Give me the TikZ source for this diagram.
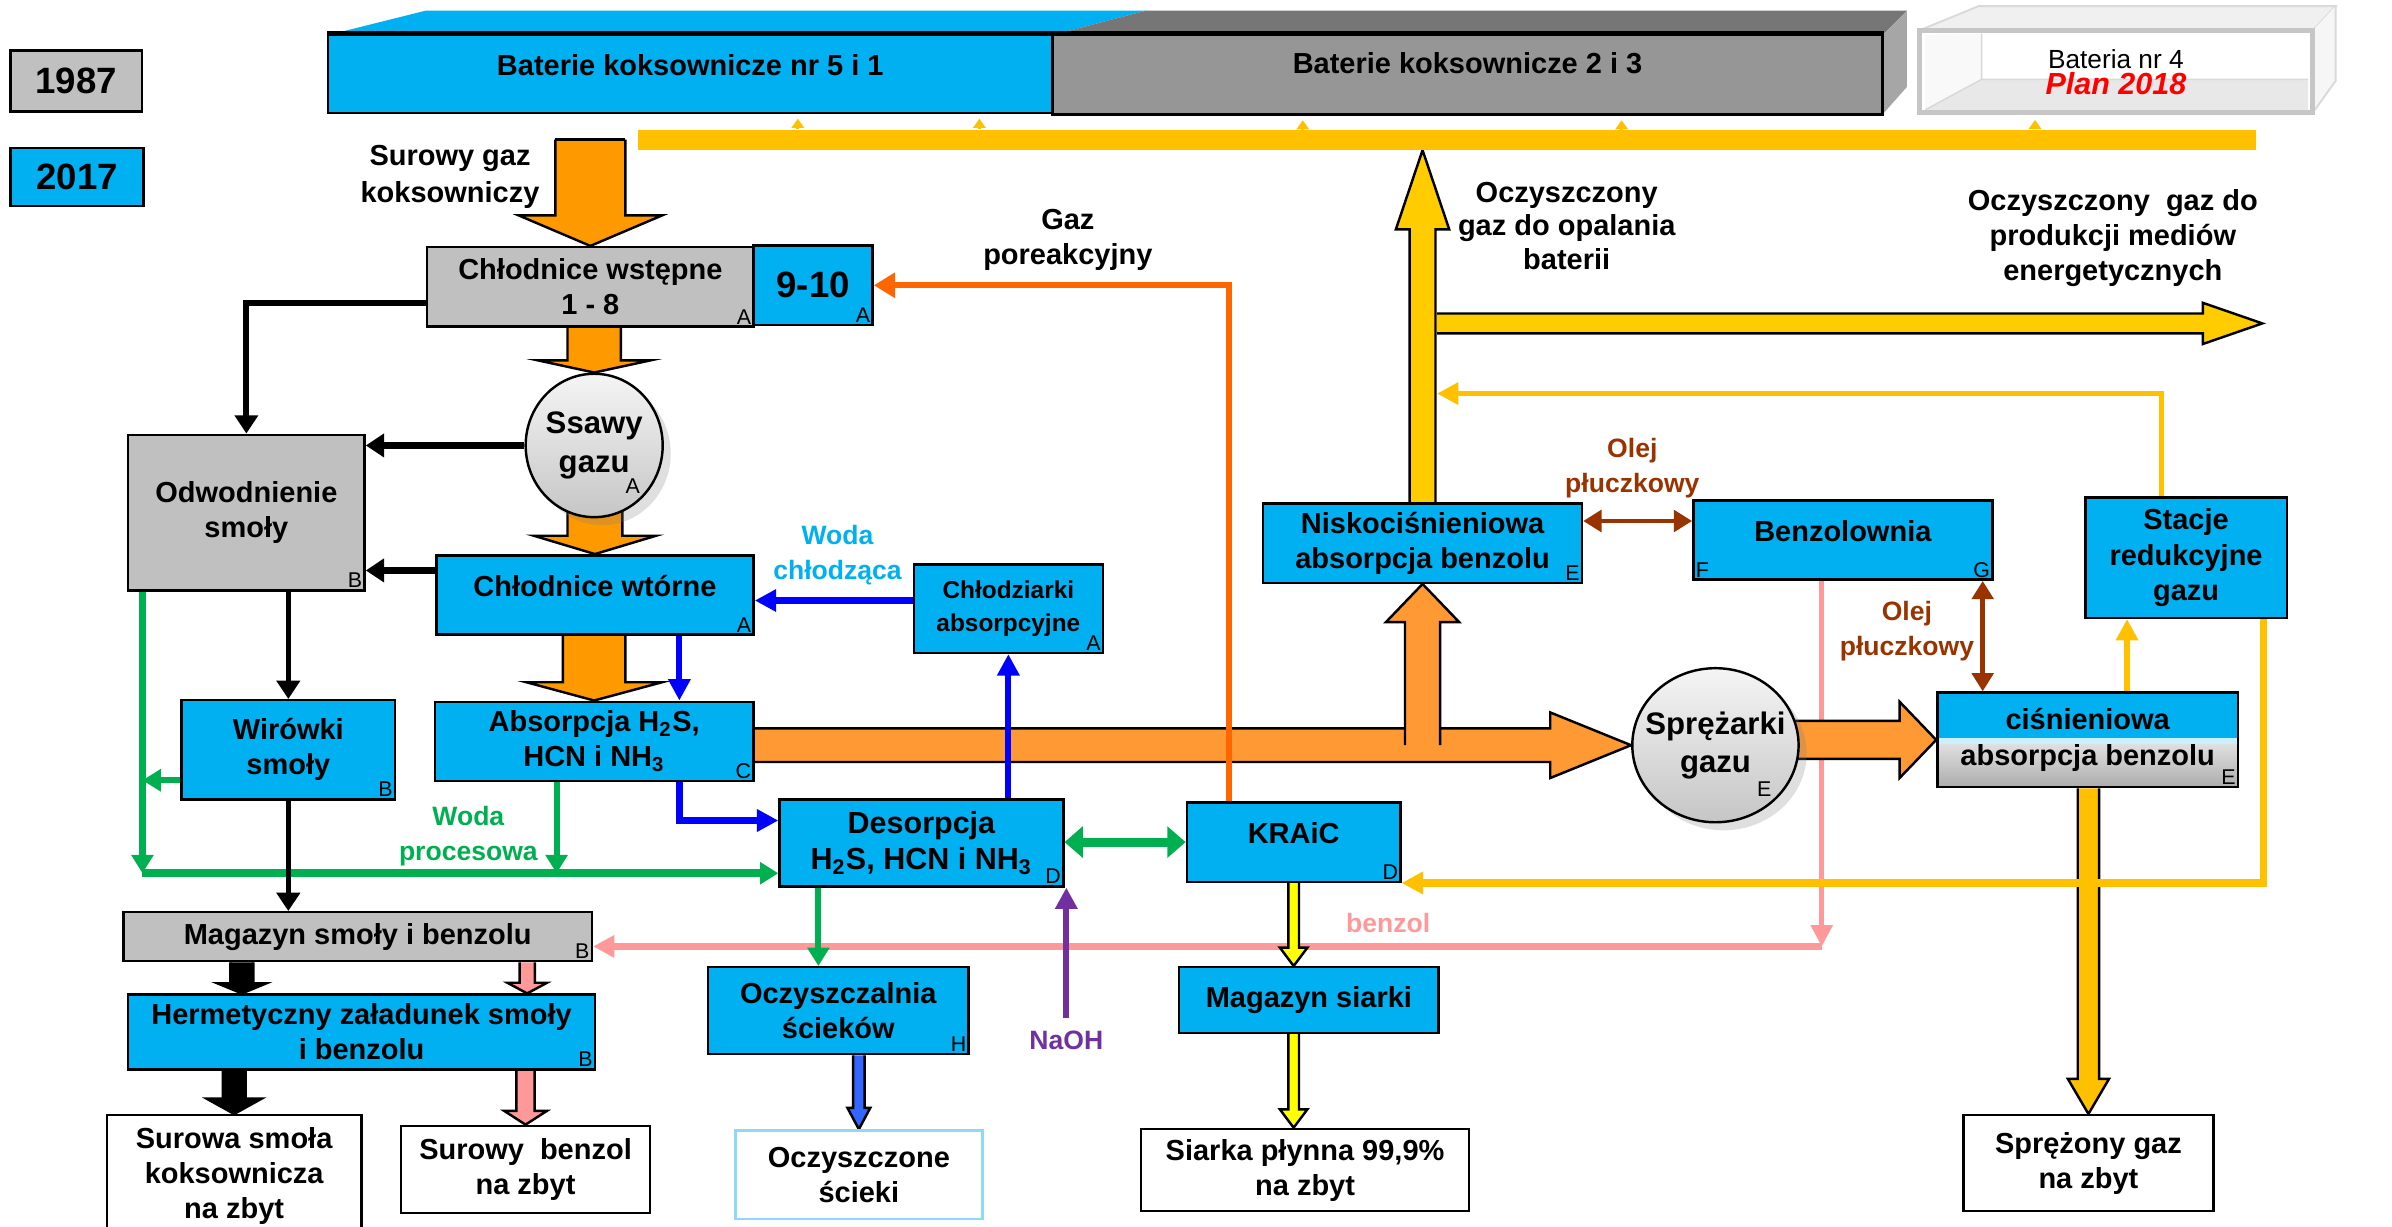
\documentclass[tikz,border=0pt]{standalone}
\usepackage{fontspec}
\setmainfont{Liberation Sans}
\usetikzlibrary{arrows.meta,calc,shapes.geometric,shadows,backgrounds}

\definecolor{boxblue}{HTML}{00B0F0}
\definecolor{boxgrey}{HTML}{C0C0C0}
\definecolor{batgrey}{HTML}{969696}
\definecolor{battop}{HTML}{767676}
\definecolor{batside}{HTML}{A6A6A6}
\definecolor{orangeA}{HTML}{FF9900}
\definecolor{orangeB}{HTML}{FF9933}
\definecolor{gasred}{HTML}{FF6600}
\definecolor{yellowA}{HTML}{FFC000}
\definecolor{yellowB}{HTML}{FFCC00}
\definecolor{sulfur}{HTML}{FFFF00}
\definecolor{watergreen}{HTML}{00B050}
\definecolor{coolblue}{HTML}{0000FF}
\definecolor{wasteblue}{HTML}{3366FF}
\definecolor{benzpink}{HTML}{FF9999}
\definecolor{oilbrown}{HTML}{993300}
\definecolor{naohpurple}{HTML}{7030A0}
\definecolor{lightedge}{HTML}{8FD8F8}

\newcommand\boxfont{\fontsize{9.5}{11.5}\selectfont\bfseries}
\newcommand\tagfont{\fontsize{7}{7}\selectfont}

% block arrows: start, tip, shaft half width, head half width, head length, colour
\newcommand\vblock[6]{%
  \fill[#6] let \p1=#1, \p2=#2, \p3=($(\x2,\y2)!#5!(\x2,\y1)$) in
    (\x2-#3,\y1) -- (\x2-#3,\y3) -- (\x2-#4,\y3) -- (\x2,\y2) -- (\x2+#4,\y3)
    -- (\x2+#3,\y3) -- (\x2+#3,\y1) -- cycle;
  \draw[blockedge] let \p1=#1, \p2=#2, \p3=($(\x2,\y2)!#5!(\x2,\y1)$) in
    (\x2-#3,\y1) -- (\x2-#3,\y3) -- (\x2-#4,\y3) -- (\x2,\y2) -- (\x2+#4,\y3)
    -- (\x2+#3,\y3) -- (\x2+#3,\y1);}
\newcommand\hblock[6]{%
  \fill[#6] let \p1=#1, \p2=#2, \p3=($(\x2,\y2)!#5!(\x1,\y2)$) in
    (\x1,\y2-#3) -- (\x3,\y2-#3) -- (\x3,\y2-#4) -- (\x2,\y2) -- (\x3,\y2+#4)
    -- (\x3,\y2+#3) -- (\x1,\y2+#3) -- cycle;
  \draw[blockedge] let \p1=#1, \p2=#2, \p3=($(\x2,\y2)!#5!(\x1,\y2)$) in
    (\x1,\y2-#3) -- (\x3,\y2-#3) -- (\x3,\y2-#4) -- (\x2,\y2) -- (\x3,\y2+#4)
    -- (\x3,\y2+#3) -- (\x1,\y2+#3);}

\tikzset{
  proc/.style={draw=black, line width=0.8pt, fill=boxblue, align=center, font=\boxfont, inner sep=1pt},
  oldproc/.style={proc, fill=boxgrey},
  sale/.style={proc, fill=white},
  drum/.style={ellipse, draw=black, line width=0.8pt, top color=gray!8, bottom color=gray!45,
    align=center, inner sep=0pt, font=\fontsize{10.2}{12.5}\selectfont\bfseries, drop shadow={opacity=0.25}},
  wh/.style 2 args={minimum width=#1*0.5pt, minimum height=#2*0.5pt},
  tagse/.style={label={[font=\tagfont, inner sep=1pt, anchor=south east]south east:#1}},
  tagsw/.style={label={[font=\tagfont, inner sep=1pt, anchor=south west]south west:#1}},
  note/.style={align=center, font=\boxfont, inner sep=0pt},
  smallnote/.style={note, font=\fontsize{8.7}{11.5}\selectfont\bfseries},
  blockedge/.style={draw=black, line width=0.8pt, line join=miter},
  blackflow/.style={draw=black, line width=2pt, -{Triangle[length=6pt,width=7.5pt]}},
  coolflow/.style={draw=coolblue, line width=2pt, -{Triangle[length=7pt,width=7pt]}},
  waterflow/.style={draw=watergreen, line width=2pt, -{Triangle[length=6pt,width=7pt]}},
  gasflow/.style={draw=gasred, line width=2pt, -{Triangle[length=7pt,width=8pt]}},
  fuelflow/.style={draw=yellowA, line width=1.8pt, -{Triangle[length=7pt,width=7pt]}},
  oilflow/.style={draw=oilbrown, line width=1.5pt, {Triangle[length=6pt,width=7pt]}-{Triangle[length=6pt,width=7pt]}},
  benzflow/.style={draw=benzpink, -{Triangle[length=7pt,width=7pt]}},
  feed/.style={draw=yellowA, line width=1pt, -{Triangle[length=3pt,width=4pt]}, shorten >=1.5pt}
}

\begin{document}
\begin{tikzpicture}[x=0.5pt, y=-0.5pt]
\useasboundingbox (0,0) rectangle (1568,804);

% batteries
\fill[boxblue] (215,23) -- (279,7) -- (751,7) -- (690,23) -- cycle;
\fill[battop] (690,23) -- (751,7) -- (1250,7) -- (1234,23) -- cycle;
\fill[batside] (1234,23) -- (1250,7) -- (1250,57) -- (1234,75) -- cycle;
\node[proc, wh={475}{51}, text depth=6pt] (bat51) at (452.5,48.5) {Baterie koksownicze nr 5 i 1};
\node[proc, fill=batgrey, wh={544}{52}, text depth=8pt] (bat23) at (962,49) {Baterie koksownicze 2 i 3};
\draw[line width=1.6pt] (bat51.north west) -- (bat23.north east);

\fill[gray!12] (1258,20) -- (1297,4) -- (1531,4) -- (1516,20) -- cycle;
\draw[gray!30, line width=0.6pt] (1258,20) -- (1297,4) -- (1531,4) -- (1516,20);
\fill[gray!7] (1516,20) -- (1531,4) -- (1531,53) -- (1516,74) -- cycle;
\draw[gray!30, line width=0.6pt] (1531,4) -- (1531,53) -- (1516,74);
\fill[gray!5] (1262,23) -- (1299,22) -- (1299,52) -- (1262,72) -- cycle;
\fill[gray!18] (1262,72) -- (1299,52) -- (1513,52) -- (1513,72) -- cycle;
\draw[gray!30, line width=0.5pt] (1299,22) -- (1299,52) -- (1262,72) (1299,52) -- (1513,52);
\node[draw=gray!45, line width=1.6pt, wh={258}{54}, align=center, inner sep=0pt,
  font=\fontsize{8.6}{8.5}\selectfont] (bat4) at (1387,47)
  {Bateria nr 4\\{\fontsize{10}{8.5}\selectfont\bfseries\itshape\color{red}Plan 2018}};

\node[fill=yellowA, inner sep=0pt, wh={1061}{13}] (gasband) at (948.5,91.5) {};
\foreach \bx/\bt in {523/bat51,642/bat51,854/bat23,1063/bat23,1334/bat4}
  \draw[feed] (\bx,0 |- gasband.north) -- (\bx,0 |- \bt.south);

% legend
\node[oldproc, wh={86}{40}, font=\fontsize{12}{14}\selectfont\bfseries] (y1987) at (50,53) {1987};
\node[proc, wh={87}{38}, font=\fontsize{12}{14}\selectfont\bfseries] (y2017) at (50.5,116) {2017};

% units
\node[oldproc, wh={214}{52}, tagse=A] (cws) at (387,188) {Chłodnice wstępne\\1 - 8};
\node[proc, wh={78}{52}, tagse=A, font=\fontsize{12}{14}\selectfont\bfseries] (c910) at (533,187) {9-10};
\node[drum, wh={89}{94}, tagse=A] (ssawy) at (389.5,292) {Ssawy\\gazu};
\node[oldproc, wh={155}{102}, tagse=B] (odw) at (161.5,336) {Odwodnienie\\smoły};
\node[proc, wh={208}{52}, tagse=A, text depth=6pt] (cwt) at (390,390) {Chłodnice wtórne};
\node[proc, wh={124}{58}, tagse=A, font=\fontsize{8}{10.5}\selectfont\bfseries] (chl) at (661,399) {Chłodziarki\\absorpcyjne};
\node[proc, wh={209}{52}, tagse=C] (absc) at (389.5,486) {Absorpcja H\textsubscript{2}S,\\HCN i NH\textsubscript{3}};
\node[proc, wh={186}{57}, tagse=D, font=\fontsize{10}{12}\selectfont\bfseries] (deso) at (604,552.5) {Desorpcja\\H\textsubscript{2}S, HCN i NH\textsubscript{3}};
\node[proc, wh={140}{52}, tagse=D, text depth=6pt] (kraic) at (848,552) {KRAiC};
\node[proc, wh={170}{43}] (msiar) at (858,655.5) {Magazyn siarki};
\node[sale, wh={215}{54}] (siarka) at (855.5,767) {Siarka płynna 99,9\%\\na zbyt};
\node[proc, wh={209}{52}, tagse=E] (nisko) at (932.5,356) {Niskociśnieniowa\\absorpcja benzolu};
\node[proc, wh={196}{52}, tagsw=F, tagse=G, text depth=6pt] (benz) at (1208,354) {Benzolownia};
\node[proc, wh={132}{79}] (stacje) at (1433,365.5) {Stacje\\redukcyjne\\gazu};
\node[drum, wh={109}{101}, inner xsep=-4pt, tagse=E] (spr) at (1124.5,488.5) {Sprężarki\\gazu};
\node[proc, wh={197}{62}, tagse=E, path picture={
    \fill[boxblue] (path picture bounding box.north west) rectangle ($(path picture bounding box.south east)!0.52!(path picture bounding box.north east)$);
    \fill[cyan!20!white] ($(path picture bounding box.south west)!0.52!(path picture bounding box.north west)$) rectangle ($(path picture bounding box.south east)!0.45!(path picture bounding box.north east)$);
    \fill[top color=gray!25, bottom color=gray!65] ($(path picture bounding box.south west)!0.45!(path picture bounding box.north west)$) rectangle (path picture bounding box.south east);}]
  (cisn) at (1368.5,485) {ciśnieniowa\\absorpcja benzolu};
\node[sale, wh={164}{63}] (sprezony) at (1369,762.5) {Sprężony gaz\\na zbyt};
\node[proc, wh={140}{65}, tagse=B] (wir) at (189,491.5) {Wirówki\\smoły};
\node[oldproc, wh={307}{32}, tagse=B] (magsm) at (234.5,614) {Magazyn smoły i benzolu};
\node[proc, wh={306}{49}, tagse=B] (herm) at (237,676.5) {Hermetyczny załadunek smoły\\i benzolu};
\node[sale, wh={167}{80}] (surowa) at (153.5,771) {Surowa smoła\\koksownicza\\na zbyt};
\node[sale, wh={163}{57}] (surben) at (344.5,766.5) {Surowy\ \ benzol\\na zbyt};
\node[proc, wh={171}{57}, tagse=H] (oczy) at (549.5,662.5) {Oczyszczalnia\\ścieków};
\node[sale, draw=lightedge, wh={162}{58}] (oczsc) at (563,770) {Oczyszczone\\ścieki};

% free labels
\node[note, font=\fontsize{9.5}{12}\selectfont\bfseries] (rawgas) at (295,116) {Surowy gaz\\koksowniczy};
\node[note] (tailgas) at (700,157) {Gaz\\poreakcyjny};
\node[note, font=\fontsize{9.5}{11}\selectfont\bfseries] (fuelgas) at (1027,148) {Oczyszczony\\gaz do opalania\\baterii};
\node[note, font=\fontsize{9.5}{11.5}\selectfont\bfseries] (mediagas) at (1385,156) {Oczyszczony\ \ gaz do\\produkcji mediów\\energetycznych};
\node[smallnote, text=boxblue] (coolw) at (549,364) {Woda\\chłodząca};
\node[smallnote, text=watergreen] (procw) at (307,548) {Woda\\procesowa};
\node[smallnote, text=oilbrown] (oil1) at (1070,307) {Olej\\płuczkowy};
\node[smallnote, text=oilbrown] (oil2) at (1250,414) {Olej\\płuczkowy};
\node[smallnote, text=benzpink] (benzlab) at (910,605) {benzol};
\node[smallnote, text=naohpurple] (naoh) at (699,682) {NaOH};

\coordinate (medstart) at (942,212);
\coordinate (medout) at (1483,212);

\begin{pgfonlayer}{background}
\fill[white] (0,0) rectangle (1568,804);
% benzol return
\coordinate (pA) at ($(benz.south west)!0.43!(benz.south east)$);
\coordinate (pB) at ($(magsm.north east)!0.69!(magsm.south east)$);
\draw[benzflow, line width=1.5pt] (pA) -- (pA |- pB);
\draw[benzflow, line width=2.4pt] (pA |- pB) -- (pB);
% gas
\vblock{(cws.north |- gasband.center)}{(cws.north)}{11.5pt}{23.5pt}{10pt}{orangeA}
\draw[blockedge] ($(cws.north |- gasband.center)+(-23,0)$) -- ++(46,0);
\vblock{(cws.south)}{(ssawy.north)}{8.75pt}{18.5pt}{4pt}{orangeA}
\vblock{(ssawy.center)}{(cwt.north)}{9pt}{20pt}{6pt}{orangeA}
\vblock{(cwt.south)}{(absc.north)}{10.25pt}{22.25pt}{6pt}{orangeA}
\hblock{(absc.east)}{(spr.west)}{5.5pt}{10.75pt}{26.5pt}{orangeB}
\vblock{(nisko.south |- spr.west)}{(nisko.south)}{5.75pt}{12pt}{12.5pt}{orangeB}
\hblock{(spr.center)}{(cisn.west)}{6.25pt}{12.5pt}{12pt}{orangeB}
\vblock{(nisko.north)}{(nisko.north |- gasband.south)}{4.25pt}{8.75pt}{26pt}{yellowB}
\hblock{(medstart)}{(medout)}{3.25pt}{6.75pt}{19.5pt}{yellowB}
\vblock{(cisn.south)}{(sprezony.north)}{3.5pt}{6.75pt}{11.5pt}{yellowA}
% products
\vblock{(magsm.south)}{($(herm.north west)!0.245!(herm.north east)$)}{3.75pt}{8pt}{3.3pt}{black}
\vblock{(magsm.south)}{($(herm.north west)!0.853!(herm.north east)$)}{2.5pt}{6.5pt}{3.5pt}{benzpink}
\vblock{(herm.south)}{(surowa.north)}{3.75pt}{9pt}{5pt}{black}
\vblock{(herm.south)}{(surben.north)}{3pt}{7pt}{4.5pt}{benzpink}
\vblock{(kraic.south)}{(msiar.north -| kraic.south)}{1.75pt}{4.5pt}{6pt}{sulfur}
\vblock{(msiar.south)}{(siarka.north -| kraic.south)}{1.75pt}{4.5pt}{6pt}{sulfur}
\vblock{(oczy.south)}{(oczsc.north)}{1.9pt}{3.75pt}{7pt}{wasteblue}
\end{pgfonlayer}

% process water
\coordinate (gA) at ($(odw.south west)!0.065!(odw.south east)$);
\coordinate (gB) at ($(deso.north west)!0.84!(deso.south west)$);
\coordinate (gW) at ($(wir.south west)!0.2!(wir.north west)$);
\coordinate (gC) at ($(absc.south west)!0.383!(absc.south east)$);
\coordinate (gD) at ($(deso.south west)!0.14!(deso.south east)$);
\draw[waterflow] (gA) -- (gA |- gB);
\draw[waterflow, line width=2.5pt] (gA |- gB) -- (gB);
\draw[waterflow] (gW) -- (gW -| gA);
\draw[waterflow] (gC) -- (gC |- gB);
\draw[waterflow] (gD) -- (gD |- oczy.north);
\draw[waterflow, line width=3pt, {Triangle[length=6pt,width=10pt]}-{Triangle[length=6pt,width=10pt]}] (kraic.west -| deso.east) -- (kraic.west);

% tar
\coordinate (kA) at ($(cws.south west)!0.3!(cws.north west)$);
\coordinate (kB) at ($(cwt.north west)!0.2!(cwt.south west)$);
\draw[blackflow] (kA) -| (odw.north);
\draw[blackflow, line width=2.5pt] (ssawy.west) -- (ssawy.west -| odw.east);
\draw[blackflow, line width=2.5pt] (kB) -- (kB -| odw.east);
\draw[blackflow, line width=1.6pt] (odw.south -| wir.north) -- (wir.north);
\draw[blackflow, line width=1.6pt] (wir.south) -- (wir.south |- magsm.north);

% cooling water
\coordinate (bA) at ($(chl.north west)!0.41!(chl.south west)$);
\coordinate (bC) at ($(cwt.south west)!0.764!(cwt.south east)$);
\coordinate (bD) at ($(deso.north west)!0.25!(deso.south west)$);
\draw[coolflow, line width=2.4pt] (bA) -- (bA -| cwt.east);
\draw[coolflow] (bC) -- (bC |- absc.north);
\draw[coolflow, line width=2.4pt] (bC |- absc.south) |- (bD);
\draw[coolflow] (deso.north -| chl.south) -- (chl.south);

% tail gas, NaOH
\coordinate (rA) at ($(kraic.north west)!0.2!(kraic.north east)$);
\draw[gasflow] (rA) |- (c910.east);
\draw[draw=naohpurple, line width=2pt, -{Triangle[length=7pt,width=7pt]}, shorten <=4pt] (naoh.north) -- (naoh.north |- deso.south);

% wash oil
\coordinate (oA) at ($(nisko.north east)!0.23!(nisko.south east)$);
\coordinate (oB) at ($(benz.south west)!0.964!(benz.south east)$);
\draw[oilflow] (oA) -- (oA -| benz.west);
\draw[oilflow] (oB) -- (oB |- cisn.north);

% clean gas
\coordinate (yA) at ($(cisn.north west)!0.63!(cisn.north east)$);
\coordinate (yB) at ($(stacje.north west)!0.38!(stacje.north east)$);
\coordinate (yC) at (942,258);
\coordinate (yD) at ($(stacje.south west)!0.88!(stacje.south east)$);
\draw[fuelflow] (yA) -- (yA |- stacje.south);
\draw[fuelflow] (yB) |- (yC);
\draw[fuelflow, line width=2.5pt] (yD) |- (kraic.south east);
\end{tikzpicture}
\end{document}
